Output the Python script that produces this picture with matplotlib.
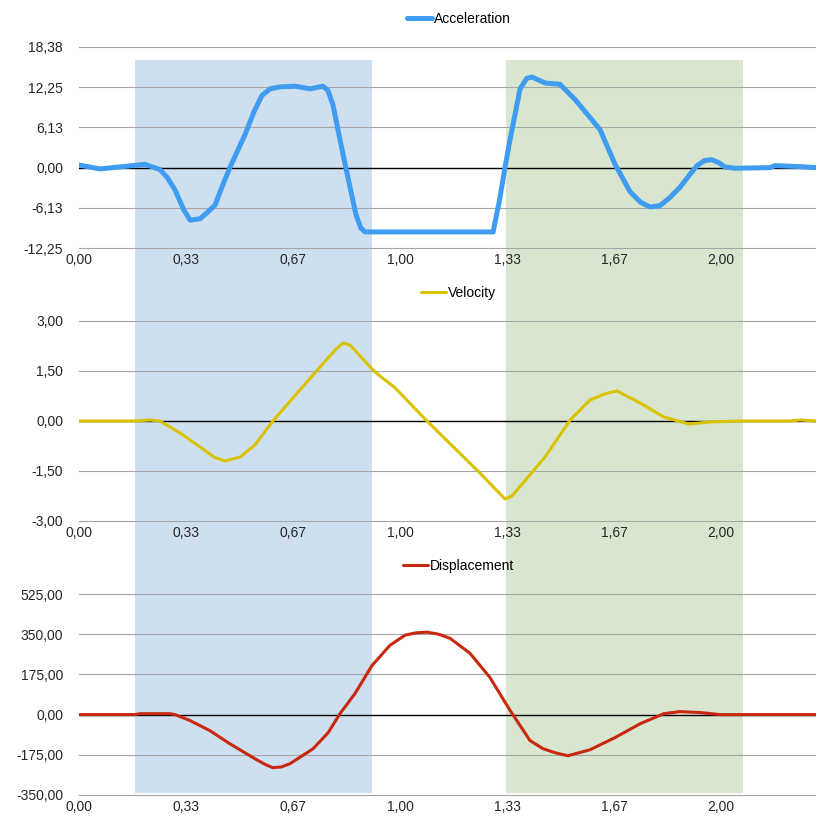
import numpy as np
import matplotlib
matplotlib.use('Agg')
import matplotlib.pyplot as plt

plt.rcParams['font.family'] = ['Liberation Sans', 'DejaVu Sans']

# ==============================================
# Data
t_acc = [0.0, 0.065, 0.206, 0.252, 0.275, 0.299, 0.325, 0.346, 0.377, 0.405,
         0.424, 0.445, 0.470, 0.517, 0.545, 0.570, 0.595, 0.626, 0.673, 0.720,
         0.760, 0.775, 0.791, 0.810, 0.829, 0.863, 0.878, 0.891, 1.290, 1.310,
         1.327, 1.343, 1.374, 1.395, 1.411, 1.452, 1.498, 1.545, 1.623, 1.670,
         1.717, 1.750, 1.779, 1.810, 1.840, 1.872, 1.925, 1.950, 1.972, 1.995,
         2.012, 2.044, 2.153, 2.168, 2.246, 2.296]
acceleration = [0.4, -0.2, 0.5, -0.3, -1.5, -3.4, -6.3, -8.0, -7.8, -6.6,
                -5.7, -3.0, 0.0, 5.0, 8.5, 11.0, 12.0, 12.3, 12.4, 12.0,
                12.4, 11.8, 9.6, 5.0, 0.5, -7.2, -9.2, -9.8, -9.8, -5.0,
                0.0, 4.3, 12.0, 13.6, 13.8, 12.9, 12.7, 10.4, 5.8, 0.5,
                -3.7, -5.3, -6.0, -5.8, -4.6, -3.0, 0.3, 1.1, 1.2, 0.7,
                0.1, -0.1, 0.0, 0.3, 0.15, 0.0]

t_vel = [0.0, 0.174, 0.221, 0.252, 0.315, 0.377, 0.424, 0.455, 0.502, 0.548,
         0.604, 0.688, 0.751, 0.800, 0.822, 0.844, 0.922, 0.984, 1.084, 1.249,
         1.327, 1.349, 1.452, 1.530, 1.592, 1.640, 1.676, 1.748, 1.822, 1.900,
         1.963, 2.059, 2.215, 2.246, 2.296]
velocity = [0, 0, 0.03, 0, -0.36, -0.78, -1.1, -1.2, -1.08, -0.72,
            0, 0.93, 1.62, 2.15, 2.34, 2.28, 1.47, 1.0, 0, -1.56,
            -2.34, -2.25, -1.08, 0.03, 0.63, 0.82, 0.9, 0.54, 0.12, -0.09,
            -0.03, 0, 0, 0.03, 0]

t_disp = [0.0, 0.174, 0.19, 0.283, 0.299, 0.346, 0.408, 0.470, 0.548, 0.580,
          0.604, 0.630, 0.657, 0.729, 0.776, 0.813, 0.860, 0.913, 0.969, 1.016,
          1.050, 1.084, 1.120, 1.156, 1.218, 1.280, 1.343, 1.405, 1.445, 1.483,
          1.523, 1.592, 1.670, 1.748, 1.822, 1.872, 1.935, 1.997, 2.296]
displacement = [0, 0, 4, 4, 0, -26, -70, -127, -192, -217,
                -231, -228, -214, -149, -79, 4, 92, 214, 302, 346,
                356, 359, 350, 332, 267, 162, 18, -113, -148, -166,
                -179, -153, -100, -40, 4, 13, 9, 0, 0]

x_ticks = [0, 1 / 3, 2 / 3, 1, 4 / 3, 5 / 3, 2]
x_labels = ['0,00', '0,33', '0,67', '1,00', '1,33', '1,67', '2,00']
acc_ticks = [-12.25, -6.13, 0.0, 6.13, 12.25, 18.38]
vel_ticks = [-3.0, -1.5, 0.0, 1.5, 3.0]
disp_ticks = [-350.0, -175.0, 0.0, 175.0, 350.0, 525.0]

blue_span = (0.174, 0.913)
green_span = (1.330, 2.069)

x_max = 2.296

# ==============================================
fig = plt.figure(figsize=(8.16, 8.18), dpi=100)
left, width = 79 / 816, (816 - 79) / 816

# background shading across all panels
bg = fig.add_axes([left, 0, width, 1])
bg.set_xlim(0, x_max)
bg.axvspan(*blue_span, ymin=25 / 818, ymax=758 / 818, color='#cedff0', lw=0)
bg.axvspan(*green_span, ymin=25 / 818, ymax=758 / 818, color='#d8e6cf', lw=0)
bg.axis('off')


def fmt(v):
    return f'{v:.2f}'.replace('.', ',')


def panel(rect, t, y, ticks, color, lw, label):
    ax = fig.add_axes(rect)
    ax.patch.set_alpha(0)
    ax.plot(t, y, color=color, lw=lw, label=label, solid_joinstyle='round',
            solid_capstyle='round', zorder=3)
    ax.axhline(0, color='black', lw=1.0, zorder=2)
    for v in ticks:
        if v != 0:
            ax.axhline(v, color='#a6a6a6', lw=0.8, zorder=1, clip_on=False)
    ax.set_xlim(0, x_max)
    ax.set_ylim(ticks[0], ticks[-1])
    ax.set_yticks(ticks)
    ax.set_yticklabels([fmt(v) for v in ticks])
    ax.set_xticks(x_ticks)
    ax.set_xticklabels(x_labels)
    ax.tick_params(length=0, labelsize=10, colors='#262626')
    ax.tick_params(axis='y', pad=11.5)
    ax.tick_params(axis='x', pad=3.5)
    for s in ax.spines.values():
        s.set_visible(False)
    h = rect[3]
    ax.legend(loc='center', bbox_to_anchor=(0.515, 1 + 28 / (h * 818)),
              frameon=False, fontsize=10, handlelength=1.8, handletextpad=0.15,
              borderpad=0)
    return ax


panel([left, (818 - 248) / 818, width, 201 / 818], t_acc, acceleration,
      acc_ticks, '#3f9cf0', 3.6, 'Acceleration')
panel([left, (818 - 521) / 818, width, 200 / 818], t_vel, velocity,
      vel_ticks, '#d9c200', 2.2, 'Velocity')
panel([left, (818 - 795) / 818, width, 201 / 818], t_disp, displacement,
      disp_ticks, '#c8280f', 2.2, 'Displacement')

fig.savefig('out.png', dpi=100)
